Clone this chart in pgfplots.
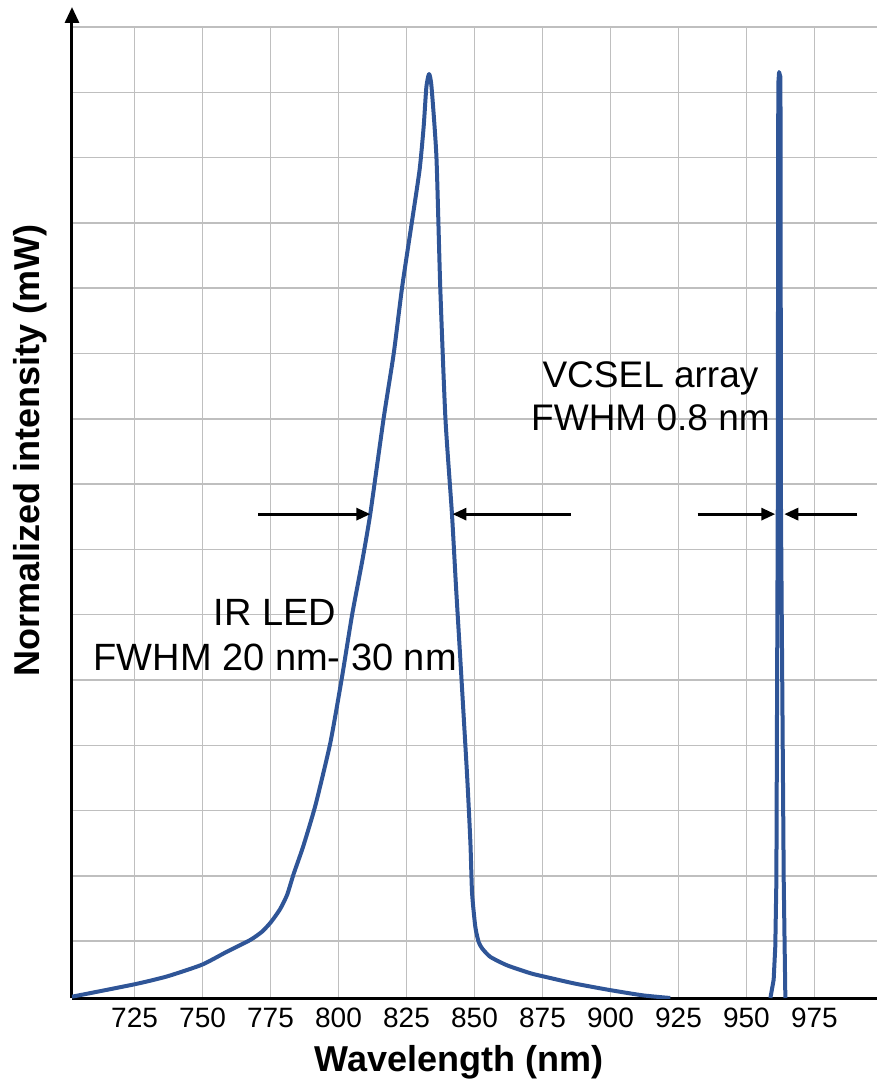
\documentclass[border=0pt]{standalone}
\usepackage{fontspec}
\setmainfont{Liberation Sans}
\usepackage{pgfplots}
\pgfplotsset{compat=1.18}
\usetikzlibrary{arrows.meta}
\definecolor{ledblue}{RGB}{47,85,151}
\definecolor{gridgray}{RGB}{191,191,191}

\begin{document}
\begin{tikzpicture}
\begin{axis}[
    scale only axis,
    width=402.5pt, height=485.5pt,
    xmin=702, xmax=998,
    ymin=0, ymax=14.87,
    axis x line=bottom, axis y line=left,
    x axis line style={-, line width=1.5pt},
    y axis line style={-{Triangle[length=8pt,width=7pt]}, line width=1.5pt, shorten >=-10pt},
    xtick={725,750,775,800,825,850,875,900,925,950,975},
    ytick={0.87,1.87,2.87,3.87,4.87,5.87,6.87,7.87,8.87,9.87,10.87,11.87,12.87,13.87,14.87},
    yticklabels={},
    major tick length=0pt,
    grid=major,
    grid style={gridgray, line width=0.75pt},
    tick label style={font=\fontsize{14}{16}\selectfont},
    xticklabel style={yshift=-1.5pt},
    /pgf/number format/assume math mode=true,
    xlabel={Wavelength (nm)},
    ylabel={Normalized intensity (mW)},
    label style={font=\bfseries\fontsize{18}{21}\selectfont},
    xlabel style={at={(axis description cs:0.481,0)}, anchor=north, yshift=-20pt},
    ylabel style={at={(axis description cs:-0.052,0.564)}, anchor=center},
]
% IR LED spectrum
\addplot[ledblue, line width=2pt, line join=round, smooth, tension=0.35] coordinates {
    (702.0,0.02) (725.0,0.21) (736.9,0.33) (749.8,0.51) (759.0,0.71)
    (767.6,0.89) (772.0,1.02) (775.3,1.17) (778.5,1.36) (781.1,1.58)
    (783.5,1.90) (787.0,2.32) (791.5,2.95) (797.0,3.91) (801.3,4.92)
    (805.0,5.87) (808.8,6.71) (811.7,7.42) (816.6,8.88) (820.3,9.87)
    (823.4,10.89) (827.0,11.89) (829.8,12.68) (831.3,13.34) (832.3,13.95)
    (833.3,14.15) (834.2,13.95) (836.0,12.88) (837.4,10.89) (839.3,8.88)
    (841.7,7.42) (843.2,6.30) (844.8,5.18) (847.3,3.39) (848.5,2.37)
    (849.1,1.61) (850.3,1.09) (851.5,0.86) (852.8,0.76) (855.8,0.63)
    (862.0,0.50) (870.5,0.38) (875.4,0.33) (887.0,0.22) (900.0,0.12)
    (912.0,0.04) (922.0,0.00)
};
% VCSEL array spectrum
\addplot[ledblue, line width=2pt, line join=round] coordinates {
    (958.8,0.00) (960.0,0.28) (960.6,0.79) (961.0,1.80) (961.5,7.40)
    (961.7,14.00) (962.0,14.18) (962.5,14.10) (962.7,7.40) (963.7,1.80)
    (964.3,0.00)
};
% annotations
\node[font=\fontsize{18.5}{22}\selectfont] at (axis cs:914.7,9.49) {VCSEL array};
\node[font=\fontsize{18.5}{22}\selectfont] at (axis cs:914.7,8.88) {FWHM 0.8 nm};
\node[font=\fontsize{19}{22}\selectfont] at (axis cs:776.7,5.90) {IR LED};
\node[font=\fontsize{19}{22}\selectfont] at (axis cs:776.7,5.21) {FWHM 20 nm- 30 nm};
\draw[-{Triangle[length=7pt,width=6pt]}, line width=1.5pt] (axis cs:770.5,7.41) -- (axis cs:811.7,7.41);
\draw[-{Triangle[length=7pt,width=6pt]}, line width=1.5pt] (axis cs:885.3,7.41) -- (axis cs:841.9,7.41);
\draw[-{Triangle[length=7pt,width=6pt]}, line width=1.5pt] (axis cs:932.0,7.41) -- (axis cs:960.6,7.41);
\draw[-{Triangle[length=7pt,width=6pt]}, line width=1.5pt] (axis cs:990.8,7.41) -- (axis cs:963.9,7.41);
\end{axis}
\pgfresetboundingbox
\useasboundingbox ([xshift=-36pt,yshift=-42pt]current axis.south west) rectangle ([yshift=13.5pt]current axis.north east);
\end{tikzpicture}
\end{document}
